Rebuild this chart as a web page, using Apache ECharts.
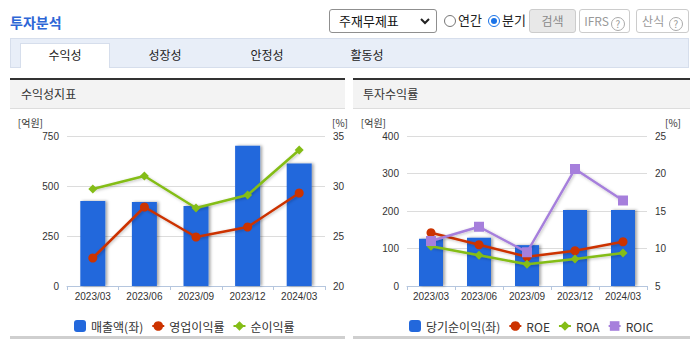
<!DOCTYPE html>
<html><head><meta charset="utf-8">
<script src="https://cdn.jsdelivr.net/npm/echarts@6/dist/echarts.min.js"></script>
<style>
html,body{margin:0;padding:0;background:#fff;width:697px;height:342px;overflow:hidden;font-family:"Noto Sans CJK KR","Liberation Sans",sans-serif;}
.abs{position:absolute;}
.title{left:10px;top:12px;font-size:14px;font-weight:bold;color:#2d66d6;}
.sel{left:329px;top:9px;width:106px;height:22px;border:1px solid #8f8f8f;border-radius:3px;font-size:13px;color:#111;line-height:22px;}
.sel span{position:absolute;left:9px;top:0;}
.radio{width:10px;height:10px;border:1px solid #777;border-radius:50%;top:15px;}
.radio.on{border-color:#1a73e8;}
.radio.on:after{content:"";position:absolute;left:2px;top:2px;width:6px;height:6px;border-radius:50%;background:#1a73e8;}
.rt{font-size:13px;color:#222;top:10px;}
.btn{top:9px;height:22px;border:1px solid #ccc;border-radius:3px;font-size:12px;color:#999;line-height:22px;text-align:center;background:#fff;}
.q{display:inline-block;width:12px;height:12px;border:1px solid #aaa;border-radius:50%;font-size:10px;line-height:12px;text-align:center;color:#999;margin-left:2px;vertical-align:-2px;}
.tabbar{left:10px;top:38px;width:679px;height:30px;background:#e8eef8;border:1px solid #d6deec;box-sizing:border-box;}
.tab{top:43px;width:90px;height:25px;background:#fff;border:1px solid #d6deec;border-bottom:none;left:20px;box-sizing:border-box;}
.tl{top:46px;font-size:12px;color:#222;transform:translateX(-50%);}
.ph{height:31px;border-top:2px solid #333;background:#f3f3f3;border-bottom:1px solid #ddd;box-sizing:border-box;top:78px;font-size:12px;color:#333;line-height:28px;}
.bl{top:336px;height:3px;background:#cfcfcf;}
#chart{left:0;top:110px;width:697px;height:226px;}
</style></head>
<body>
<div class="abs title">투자분석</div>
<div class="abs sel"><span>주재무제표</span><svg style="position:absolute;right:6px;top:8px" width="10" height="7"><polyline points="1,1 5,5 9,1" fill="none" stroke="#222" stroke-width="2"/></svg></div>
<div class="abs radio" style="left:444px"></div><div class="abs rt" style="left:458px">연간</div>
<div class="abs radio on" style="left:488px"></div><div class="abs rt" style="left:502px">분기</div>
<div class="abs btn" style="left:529px;width:45px;background:#e8e8e8;color:#888">검색</div>
<div class="abs btn" style="left:579px;width:49px">IFRS<span class="q">?</span></div>
<div class="abs btn" style="left:636px;width:51px">산식 <span class="q">?</span></div>
<div class="abs tabbar"></div>
<div class="abs tab"></div>
<div class="abs tl" style="left:65px">수익성</div>
<div class="abs tl" style="left:165px">성장성</div>
<div class="abs tl" style="left:267px">안정성</div>
<div class="abs tl" style="left:367px">활동성</div>
<div class="abs ph" style="left:10px;width:335px;padding-left:11px">수익성지표</div>
<div class="abs ph" style="left:353px;width:337px;padding-left:10px">투자수익률</div>
<div class="abs bl" style="left:10px;width:335px"></div>
<div class="abs bl" style="left:353px;width:337px"></div>
<div id="chart" class="abs"></div>
<script>
const categories = ['2023/03','2023/06','2023/09','2023/12','2024/03'];
// 수익성지표
const sales = [425, 420, 400, 701, 612];
const opMargin = [22.8, 27.9, 24.9, 25.9, 29.3];
const netMargin = [29.7, 31.0, 27.8, 29.1, 33.6];
// 투자수익률
const netIncome = [126, 129, 109, 203, 203];
const roe = [12.1, 10.5, 8.9, 9.7, 10.9];
const roa = [10.3, 9.1, 7.9, 8.6, 9.4];
const roic = [11.0, 12.9, 9.5, 20.6, 16.4];

const numFont = 'Liberation Sans';
const BLUE = '#2368dc', RED = '#cc3300', GREEN = '#84bd17', PURPLE = '#a67fdc';
const chart = echarts.init(document.getElementById('chart'), null, {renderer:'svg'});

function xAxis(gi){
  return {type:'category', gridIndex:gi, data:categories, boundaryGap:true,
    axisLine:{lineStyle:{color:'#b5c6de'}}, axisTick:{show:true, length:4, lineStyle:{color:'#b5c6de'}},
    axisLabel:{color:'#333', fontSize:10, fontFamily:numFont, margin:5}};
}
function yAxis(gi, min, max, iv, pos, name, split, pad){
  return {type:'value', gridIndex:gi, position:pos, min:min, max:max, interval:iv,
    name:name, nameLocation:'end', nameGap:9,
    nameTextStyle:{color:'#333', fontSize:10, fontFamily:'Noto Sans CJK KR', align: pos==='left'?'right':'left',
      padding: pos==='left'?[0,pad,0,0]:[0,0,0,pad]},
    axisLine:{show:false}, axisTick:{show:false},
    axisLabel:{color:'#333', fontSize:10, fontFamily:numFont, margin:8},
    splitLine:{show:split, lineStyle:{color:'#dcdcdc'}}};
}
const barStyle = {color:BLUE, shadowColor:'rgba(0,0,0,0.35)', shadowBlur:3, shadowOffsetX:2, shadowOffsetY:0};
function line(name, data, xi, yi, color, sym, size){
  return {name, type:'line', xAxisIndex:xi, yAxisIndex:yi, data, symbol:sym, symbolSize:size, showSymbol:true,
    itemStyle:{color}, lineStyle:{color, width:2.5, shadowColor:'rgba(0,0,0,0.25)', shadowBlur:3, shadowOffsetX:1, shadowOffsetY:1},
    emphasis:{disabled:true}, z:3};
}
const legendText = {color:'#333', fontSize:12, fontFamily:'Noto Sans CJK KR'};
chart.setOption({
  animation:false,
  grid:[{left:67, top:26, width:258, height:150}, {left:407, top:26, width:240, height:150}],
  xAxis:[xAxis(0), xAxis(1)],
  yAxis:[
    yAxis(0, 0, 750, 250, 'left', '[억원]', true, 24),
    yAxis(0, 20, 35, 5, 'right', '[%]', false, 7),
    yAxis(1, 0, 400, 100, 'left', '[억원]', true, 21),
    yAxis(1, 5, 25, 5, 'right', '[%]', false, 18)
  ],
  legend:[
    {left:69, top:205, itemWidth:12, itemHeight:12, itemGap:8, textStyle:legendText,
     data:['매출액(좌)','영업이익률','순이익률']},
    {left:404, top:205, itemWidth:12, itemHeight:12, itemGap:8, textStyle:legendText,
     data:['당기순이익(좌)','ROE','ROA','ROIC']}
  ],
  series:[
    {name:'매출액(좌)', type:'bar', xAxisIndex:0, yAxisIndex:0, data:sales, barWidth:25, itemStyle:barStyle},
    line('영업이익률', opMargin, 0, 1, RED, 'circle', 9),
    line('순이익률', netMargin, 0, 1, GREEN, 'diamond', 9),
    {name:'당기순이익(좌)', type:'bar', xAxisIndex:1, yAxisIndex:2, data:netIncome, barWidth:24, itemStyle:barStyle},
    line('ROE', roe, 1, 3, RED, 'circle', 9),
    line('ROA', roa, 1, 3, GREEN, 'diamond', 9),
    line('ROIC', roic, 1, 3, PURPLE, 'rect', 10)
  ]
});
</script>
</body></html>
